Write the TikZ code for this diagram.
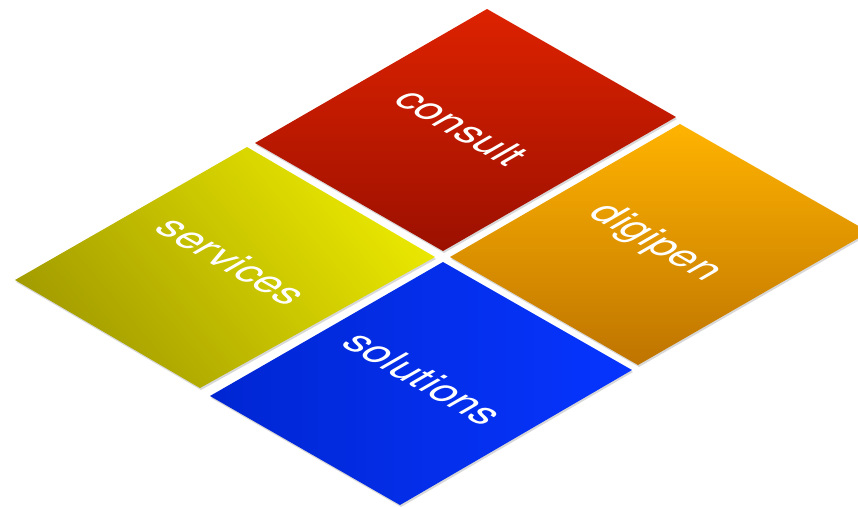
\documentclass[tikz,border=0pt]{standalone}
\usepackage{fontspec}
\setmainfont{TeX Gyre Heros}
\usetikzlibrary{shadows}
\definecolor{redtop}{HTML}{DD2200}
\definecolor{redbot}{HTML}{9C1000}
\definecolor{orgtop}{HTML}{FFB300}
\definecolor{orgmid}{HTML}{F6A300}
\definecolor{orgbot}{HTML}{BE7400}
\definecolor{yelbright}{HTML}{EAE800}
\definecolor{yelmid}{HTML}{D2CC00}
\definecolor{yeldark}{HTML}{A39C00}
\definecolor{blubright}{HTML}{0735FF}
\definecolor{bludark}{HTML}{0026D2}
\tikzset{
  tile/.style={drop shadow={opacity=0.3, shadow xshift=1pt, shadow yshift=-2pt}},
  lbl/.style={text=white, font=\fontsize{42}{42}\selectfont, inner sep=0pt, transform shape},
  isoplane/.style={cm={0.868,-0.496,0.866,0.5,(0,0)}}
}
\begin{document}
\begin{tikzpicture}[x=1pt,y=-1pt]
\clip (0,0) rectangle (858,506);
\fill[white] (0,0) rectangle (858,506);
% tiles
\shade[tile, top color=redtop, bottom color=redbot] (487,9) -- (676,117) -- (443,251) -- (255,143) -- cycle;
\shade[tile, top color=orgtop, middle color=orgmid, bottom color=orgbot] (680,124) -- (869,232) -- (638,365) -- (450,257) -- cycle;
\shade[tile, top color=yelbright, middle color=yelmid, bottom color=yeldark, shading angle=-50] (247,147) -- (435,257) -- (200,388) -- (15,280) -- cycle;
\shade[tile, left color=bludark, right color=blubright] (443,262) -- (632,370) -- (400,505) -- (210,396) -- cycle;
% labels
\begin{scope}[shift={(462,127)}, isoplane]
  \node[lbl] (consult) at (0,0) {consult};
\end{scope}
\begin{scope}[shift={(655,243)}, isoplane]
  \node[lbl] (digipen) at (0,0) {digipen};
\end{scope}
\begin{scope}[shift={(232,261)}, isoplane]
  \node[lbl] (services) at (0,0) {services};
\end{scope}
\begin{scope}[shift={(424,378)}, isoplane]
  \node[lbl] (solutions) at (0,0) {solutions};
\end{scope}
\end{tikzpicture}
\end{document}
